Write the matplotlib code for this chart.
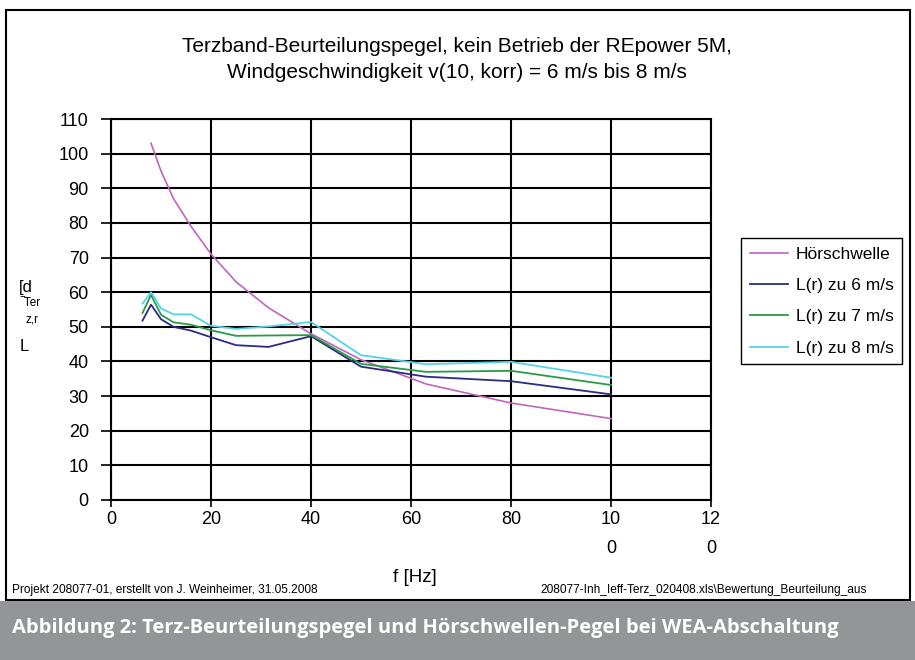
import matplotlib.pyplot as plt
from matplotlib.patches import Rectangle

# Terzbaender und Pegel
freq = [6.3, 8, 10, 12.5, 16, 20, 25, 31.5, 40, 50, 63, 80, 100]
l_6ms = [51.8, 56.4, 52.2, 50.0, 48.9, 47.0, 44.7, 44.2, 47.3, 38.5, 35.6, 34.3, 30.5]
l_7ms = [54.0, 59.2, 53.5, 51.3, 50.6, 49.0, 47.4, 47.5, 47.6, 39.3, 37.0, 37.3, 33.2]
l_8ms = [56.7, 60.0, 55.3, 53.6, 53.6, 50.3, 49.4, 50.1, 51.4, 41.8, 39.2, 39.9, 35.3]

freq_hs = [8, 10, 12.5, 16, 20, 25, 31.5, 40, 50, 63, 80, 100]
hoerschwelle = [103, 95, 87, 79, 71, 63, 55.5, 48, 40.5, 33.5, 28, 23.5]

x_ticks = [0, 20, 40, 60, 80, 100, 120]
x_labels = ["0", "20", "40", "60", "80", "10\n0", "12\n0"]
y_ticks = list(range(0, 111, 10))

plt.rcParams['font.family'] = ['Liberation Sans', 'DejaVu Sans']

W, H = 915, 660
fig = plt.figure(figsize=(W / 100, H / 100), dpi=100)

# Rahmen und Bildunterschrift
fig.patches.append(Rectangle((6 / W, 1 - 600 / H), 904 / W, 590 / H, transform=fig.transFigure,
                             fill=False, edgecolor='black', linewidth=1.5))
fig.patches.append(Rectangle((0, 0), 1, 59 / H, transform=fig.transFigure,
                             facecolor='#939598', edgecolor='none'))
fig.text(12 / W, 1 - 628 / H, "Abbildung 2: Terz-Beurteilungspegel und Hörschwellen-Pegel bei WEA-Abschaltung",
         color='white', fontsize=14.5, fontweight='bold', family=['Open Sans', 'DejaVu Sans'], va='center')

ax = fig.add_axes([111 / W, 1 - 500 / H, 600 / W, 381 / H])
ax.plot(freq_hs, hoerschwelle, color='#c066c0', lw=1.2, label='Hörschwelle')
ax.plot(freq, l_6ms, color='#2b2b85', lw=1.3, label='L(r) zu 6 m/s')
ax.plot(freq, l_7ms, color='#2a9a48', lw=1.3, label='L(r) zu 7 m/s')
ax.plot(freq, l_8ms, color='#55d2e6', lw=1.3, label='L(r) zu 8 m/s')

ax.set_xlim(0, 120)
ax.set_ylim(0, 110)
ax.set_xticks(x_ticks)
ax.set_xticklabels(x_labels, fontsize=13, linespacing=1.9)
ax.set_yticks(y_ticks)
ax.tick_params(axis='y', labelsize=13, direction='out', length=7, width=1.2, pad=9)
ax.tick_params(axis='x', direction='out', length=5, width=1.2, pad=3)
ax.grid(True, color='black', lw=1.5)
ax.set_axisbelow(True)
for s in ax.spines.values():
    s.set_linewidth(1.5)

fig.text(457 / W, 1 - 47 / H, "Terzband-Beurteilungspegel, kein Betrieb der REpower 5M,",
         ha='center', va='center', fontsize=15)
fig.text(457 / W, 1 - 73 / H, "Windgeschwindigkeit v(10, korr) = 6 m/s bis 8 m/s",
         ha='center', va='center', fontsize=15)

fig.text(415 / W, 1 - 577 / H, "f [Hz]", ha='center', va='center', fontsize=13.5)

# verstuemmelte Y-Achsenbeschriftung wie im Original
fig.text(19 / W, 1 - 288 / H, "[d", fontsize=12, va='center')
fig.text(20 / W, 1 - 303 / H, "‾Ter", fontsize=8.5, va='center')
fig.text(25 / W, 1 - 319 / H, "z,r", fontsize=8.5, va='center')
fig.text(20 / W, 1 - 346 / H, "L", fontsize=12, va='center')

fig.text(12 / W, 1 - 590 / H, "Projekt 208077-01, erstellt von J. Weinheimer, 31.05.2008",
         fontsize=8.6, va='center')
fig.text(540 / W, 1 - 590 / H, "208077-Inh_Ieff-Terz_020408.xls\\Bewertung_Beurteilung_aus",
         fontsize=8.6, va='center')

ax.legend(loc='upper left', bbox_to_anchor=(741 / W, 1 - 238 / H), bbox_transform=fig.transFigure,
          borderaxespad=0, fancybox=False, edgecolor='black', framealpha=1, fontsize=12.5,
          handlelength=2.2, labelspacing=0.93, borderpad=0.5, handletextpad=0.45)

fig.savefig('out.png', dpi=100)
